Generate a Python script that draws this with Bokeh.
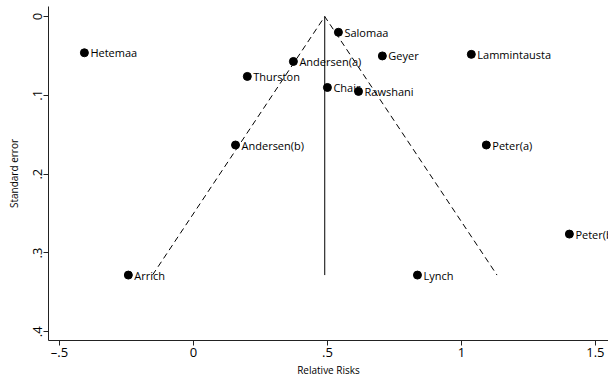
from bokeh.plotting import figure
from bokeh.models import ColumnDataSource, Range1d, FixedTicker
from bokeh.core.properties import value
from bokeh.embed import file_html
from bokeh.resources import INLINE

# Study estimates (relative risks, log scale) and their standard errors
studies = ["Hetemaa", "Salomaa", "Andersen(a)", "Geyer", "Lammintausta",
           "Thurston", "Chair", "Rawshani", "Andersen(b)", "Peter(a)",
           "Peter(b)", "Arrich", "Lynch"]
rel_risk = [-0.407, 0.541, 0.373, 0.705, 1.037,
            0.201, 0.500, 0.616, 0.157, 1.093,
            1.403, -0.243, 0.836]
std_err = [0.046, 0.020, 0.057, 0.050, 0.048,
           0.076, 0.090, 0.095, 0.163, 0.163,
           0.276, 0.328, 0.328]

pooled = 0.49          # pooled estimate (funnel centre)
z95 = 1.96             # pseudo 95% confidence limits

x_ticks = [-0.5, 0, 0.5, 1, 1.5]
x_tick_labels = ["\u2013.5", "0", ".5", "1", "1.5"]
y_ticks = [0, 0.1, 0.2, 0.3, 0.4]
y_tick_labels = ["0", ".1", ".2", ".3", ".4"]

FONT = "Open Sans"

p = figure(width=608, height=380, output_backend="svg", toolbar_location=None,
           x_range=Range1d(-0.541, 1.549), y_range=Range1d(0.411, -0.0127),
           min_border_left=48, min_border_right=0, min_border_top=6,
           min_border_bottom=40)
p.outline_line_color = None
p.xgrid.visible = False
p.ygrid.visible = False
p.background_fill_color = "white"

# Funnel: centre line and pseudo confidence limits
se_max = max(std_err)
p.line([pooled, pooled], [0, se_max], line_color="black", line_width=1)
p.line([pooled - z95 * se_max, pooled, pooled + z95 * se_max],
       [se_max, 0, se_max], line_color="black", line_width=1,
       line_dash="6 4")

src = ColumnDataSource(dict(x=rel_risk, y=std_err, name=studies))
p.scatter("x", "y", source=src, size=8, color="black")
p.text("x", "y", text="name", source=src, x_offset=6,
       text_baseline="middle", text_align="left",
       text_font=value(FONT), text_font_size="11px", text_color="black")

for ax in (p.xaxis, p.yaxis):
    ax.axis_line_color = "#222222"
    ax.major_tick_line_color = "#222222"
    ax.major_tick_out = 5
    ax.major_tick_in = 0
    ax.minor_tick_line_color = None
    ax.major_label_text_font = FONT
    ax.major_label_text_font_size = "13px"
    ax.major_label_text_color = "black"
    ax.axis_label_text_font = FONT
    ax.axis_label_text_font_size = "10px"
    ax.axis_label_text_font_style = "normal"
    ax.axis_label_text_color = "black"

p.xaxis.ticker = FixedTicker(ticks=x_ticks)
p.xaxis.major_label_overrides = dict(zip(x_ticks, x_tick_labels))
p.xaxis.axis_label = "Relative Risks"
p.xaxis.major_label_standoff = -3
p.xaxis.axis_label_standoff = -1

p.yaxis.ticker = FixedTicker(ticks=y_ticks)
p.yaxis.major_label_overrides = dict(zip(y_ticks, y_tick_labels))
p.yaxis.major_label_orientation = "vertical"
p.yaxis.axis_label = "Standard error"
p.yaxis.major_label_standoff = 1
p.yaxis.axis_label_standoff = 10

open("out.html", "w").write(file_html(p, INLINE))
